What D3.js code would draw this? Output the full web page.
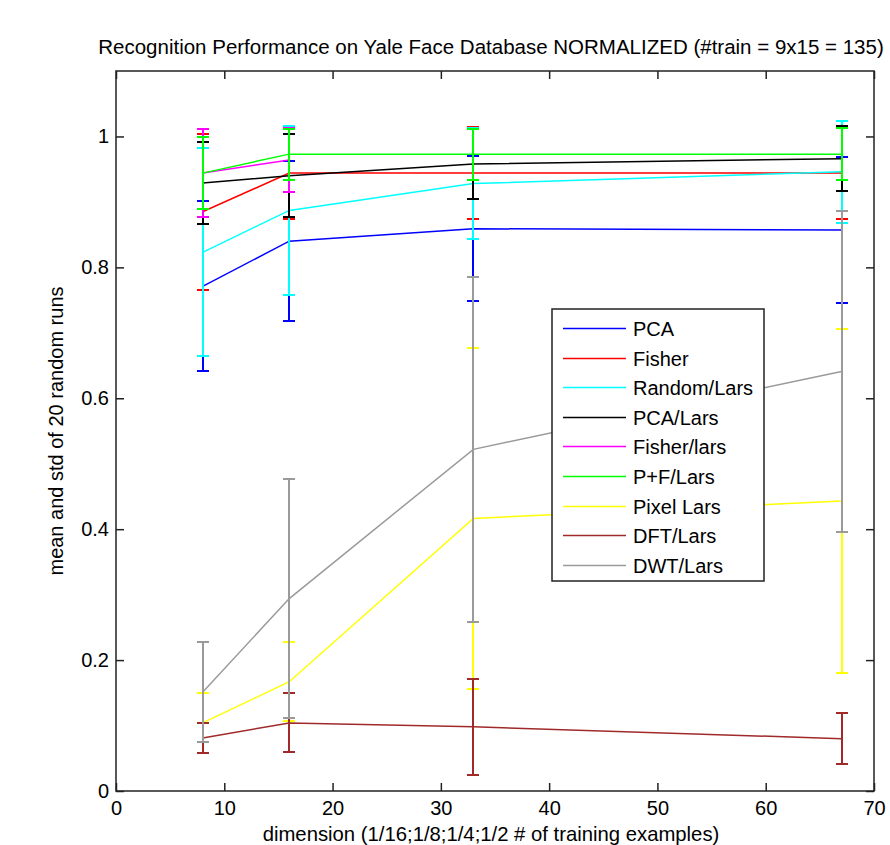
<!DOCTYPE html>
<html>
<head>
<meta charset="utf-8">
<script src="https://cdn.jsdelivr.net/npm/d3@7"></script>
<style>
  html, body { margin: 0; padding: 0; background: #fff; }
  svg { display: block; font-family: "Liberation Sans", Arial, Helvetica, sans-serif; }
</style>
</head>
<body>
<svg id="chart" width="890" height="845"></svg>
<script>
// ---------------- data ----------------
const dims = [8, 16, 33, 67];

const meanPCA        = [0.771, 0.840, 0.859, 0.857];
const stdPCA         = [0.130, 0.122, 0.111, 0.111];
const meanFisher     = [0.885, 0.944, 0.944, 0.944];
const stdFisher      = [0.119, 0.070, 0.070, 0.070];
const meanRandomLars = [0.823, 0.887, 0.928, 0.946];
const stdRandomLars  = [0.159, 0.129, 0.085, 0.078];
const meanPCALars    = [0.929, 0.940, 0.958, 0.966];
const stdPCALars     = [0.063, 0.063, 0.054, 0.050];
const meanFisherLars = [0.944, 0.964, null, null];
const stdFisherLars  = [0.067, 0.049, null, null];
const meanPFLars     = [0.944, 0.973, 0.973, 0.973];
const stdPFLars      = [0.055, 0.039, 0.039, 0.040];
const meanPixelLars  = [0.104, 0.167, 0.4165, 0.443];
const stdPixelLars   = [0.046, 0.060, 0.261, 0.263];
const meanDFTLars    = [0.081, 0.104, 0.098, 0.080];
const stdDFTLars     = [0.023, 0.045, 0.073, 0.039];
const meanDWTLars    = [0.151, 0.294, 0.522, 0.641];
const stdDWTLars     = [0.076, 0.182, 0.2635, 0.245];

const seriesNames  = ["PCA", "Fisher", "Random/Lars", "PCA/Lars", "Fisher/lars", "P+F/Lars", "Pixel Lars", "DFT/Lars", "DWT/Lars"];
const seriesColors = ["#0000ff", "#ff0000", "#00ffff", "#000000", "#ff00ff", "#00ff00", "#ffff00", "#a02a2a", "#9a9a9a"];
const seriesMeans  = [meanPCA, meanFisher, meanRandomLars, meanPCALars, meanFisherLars, meanPFLars, meanPixelLars, meanDFTLars, meanDWTLars];
const seriesStds   = [stdPCA, stdFisher, stdRandomLars, stdPCALars, stdFisherLars, stdPFLars, stdPixelLars, stdDFTLars, stdDWTLars];

const xTicks = [0, 10, 20, 30, 40, 50, 60, 70];
const yTicks = [0, 0.2, 0.4, 0.6, 0.8, 1];

const titleText  = "Recognition Performance on Yale Face Database NORMALIZED (#train = 9x15 = 135)";
const xLabelText = "dimension (1/16;1/8;1/4;1/2 # of training examples)";
const yLabelText = "mean and std of 20 random runs";

// ---------------- layout ----------------
const L = 116, R = 874, T = 71, B = 791;
const svg = d3.select("#chart");

const x = d3.scaleLinear().domain([0, 70]).range([L, R]);
const y = d3.scaleLinear().domain([0, 1.1]).range([B, T]);

const series = seriesNames.map((name, i) => ({
  name, color: seriesColors[i],
  points: dims.map((d, j) => ({ d, m: seriesMeans[i][j], s: seriesStds[i][j] }))
              .filter(p => p.m !== null)
}));

const axisColor = "#222";
const tickLen = 8;
const fontTick = 20;
const fontFam = "'Liberation Sans', Arial, sans-serif";

svg.append("rect").attr("x", L).attr("y", T).attr("width", R - L).attr("height", B - T).attr("fill", "#fff");

const plot = svg.append("g");
const line = d3.line().x(p => x(p.d)).y(p => y(p.m));
const cap = 6;

series.forEach(s => {
  const g = plot.append("g").attr("stroke", s.color).attr("fill", "none");
  const bars = g.append("g").attr("stroke-width", 2).attr("shape-rendering", "crispEdges");
  s.points.forEach(p => {
    const xp = Math.round(x(p.d));
    const lo = Math.round(y(p.m - p.s)), hi = Math.round(y(p.m + p.s));
    bars.append("line").attr("x1", xp).attr("x2", xp).attr("y1", lo).attr("y2", hi);
    bars.append("line").attr("x1", xp - cap).attr("x2", xp + cap).attr("y1", lo).attr("y2", lo);
    bars.append("line").attr("x1", xp - cap).attr("x2", xp + cap).attr("y1", hi).attr("y2", hi);
  });
  g.append("path").datum(s.points).attr("d", line).attr("stroke-width", 1.5);
});

// axes on top
const gBottom = svg.append("g").attr("transform", `translate(0,${B})`)
  .call(d3.axisBottom(x).tickValues(xTicks).tickSize(-tickLen).tickPadding(10).tickFormat(d3.format("d")));
const gTop = svg.append("g").attr("transform", `translate(0,${T})`)
  .call(d3.axisTop(x).tickValues(xTicks).tickSize(-tickLen).tickFormat(""));
const gLeft = svg.append("g").attr("transform", `translate(${L},0)`)
  .call(d3.axisLeft(y).tickValues(yTicks).tickSize(-tickLen).tickPadding(7).tickFormat(d => d3.format("~g")(d)));
const gRight = svg.append("g").attr("transform", `translate(${R},0)`)
  .call(d3.axisRight(y).tickValues(yTicks).tickSize(-tickLen).tickFormat(""));

[gBottom, gTop, gLeft, gRight].forEach(g => {
  g.select(".domain").remove();
  g.selectAll("line").attr("stroke", axisColor).attr("stroke-width", 1.5);
  g.selectAll("text").attr("fill", "#000").attr("font-size", fontTick).attr("font-family", fontFam);
});
svg.append("rect").attr("x", L).attr("y", T).attr("width", R - L).attr("height", B - T)
  .attr("fill", "none").attr("stroke", axisColor).attr("stroke-width", 1.5);

// ---------------- legend ----------------
const lgX = 552, lgY = 309, lgW = 212, lgH = 272;
const lg = svg.append("g");
lg.append("rect").attr("x", lgX).attr("y", lgY).attr("width", lgW).attr("height", lgH)
  .attr("fill", "#fff").attr("stroke", axisColor).attr("stroke-width", 1.5);
const rowH = 29.6, row0 = lgY + 19;
series.forEach((s, i) => {
  const yy = Math.round(row0 + i * rowH) + 0.5;
  lg.append("line").attr("x1", lgX + 11).attr("x2", lgX + 74).attr("y1", yy).attr("y2", yy)
    .attr("stroke", s.color).attr("stroke-width", 1.5);
  lg.append("text").attr("x", lgX + 81).attr("y", yy).attr("dy", "0.36em")
    .attr("font-size", 20).attr("fill", "#000").text(s.name);
});

// ---------------- titles ----------------
svg.append("text").attr("x", 491).attr("y", 54).attr("text-anchor", "middle")
  .attr("font-size", 20.5).attr("fill", "#000").text(titleText);
svg.append("text").attr("x", 491).attr("y", 841).attr("text-anchor", "middle")
  .attr("font-size", 20.3).attr("fill", "#000").text(xLabelText);
svg.append("text").attr("transform", `translate(63,${(T + B) / 2}) rotate(-90)`).attr("text-anchor", "middle")
  .attr("font-size", 20).attr("fill", "#000").text(yLabelText);
</script>
</body>
</html>
